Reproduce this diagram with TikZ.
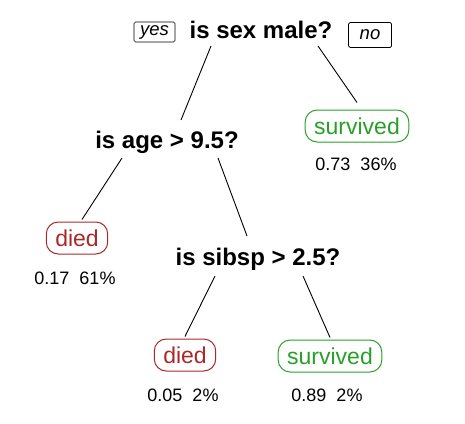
\documentclass[tikz,border=0pt]{standalone}
\usepackage{fontspec}
\setmainfont{Liberation Sans}

\begin{document}
\begin{tikzpicture}[x=1pt,y=-1pt]

\definecolor{diedred}{RGB}{170, 40, 40}
\definecolor{survgreen}{RGB}{40, 160, 40}

% Fix the page size
\useasboundingbox (0,0) rectangle (465,423);

\tikzset{
    question/.style={
        anchor=base, inner sep=0pt,
        font=\fontsize{24}{27}\selectfont\bfseries
    },
    leaf/.style={
        draw=#1, text=#1, line width=1pt,
        rectangle, rounded corners=12pt,
        minimum height=32pt, inner xsep=9pt,
        font=\fontsize{23}{26}\selectfont
    },
    stats/.style={
        font=\fontsize{18}{21}\selectfont
    },
    answer/.style={
        draw, line width=0.7pt, rounded corners=1.5pt,
        inner sep=0pt,
        font=\fontsize{18.5}{21}\selectfont\itshape
    },
    branch/.style={
        draw, line width=0.9pt
    }
}

% SPLITS
\node[question] (sex) at (261, 38) {is sex male?};
\node[question] (age) at (167, 148) {is age > 9.5?};
\node[question] (sibsp) at (258, 265) {is sibsp > 2.5?};

% yes / no tags
\node[answer, minimum width=41pt, minimum height=20pt] (yes) at (154.5, 32) {yes};
\node[answer, minimum width=43pt, minimum height=25pt] (no) at (370, 35) {no};

% LEAVES
\node[leaf=survgreen] (surv1) at (357, 126) {survived};
\node[leaf=diedred] (died1) at (77, 238) {died};
\node[leaf=diedred] (died2) at (185, 355) {died};
\node[leaf=survgreen] (surv2) at (330, 356) {survived};

% leaf numbers
\node[stats] (st1) at (356, 164) {0.73~~36\%};
\node[stats] (st2) at (75, 278) {0.17~~61\%};
\node[stats] (st3) at (183, 395) {0.05~~2\%};
\node[stats] (st4) at (327, 395) {0.89~~2\%};

% --- BRANCHES ---
\draw[branch] ([xshift=-50,yshift=-8]sex.base) -- ([xshift=14,yshift=28]age.base);
\draw[branch] ([xshift=57,yshift=-8]sex.base) -- ([yshift=7]surv1.north);

\draw[branch] ([xshift=-45,yshift=-10]age.base) -- ([xshift=5,yshift=2]died1.north);
\draw[branch] ([xshift=51,yshift=-10]age.base) -- ([xshift=-11,yshift=29]sibsp.base);

\draw[branch] ([xshift=-43,yshift=-11]sibsp.base) -- ([yshift=2]died2.north);
\draw[branch] ([xshift=45,yshift=-11]sibsp.base) -- ([yshift=2]surv2.north);

\end{tikzpicture}
\end{document}
